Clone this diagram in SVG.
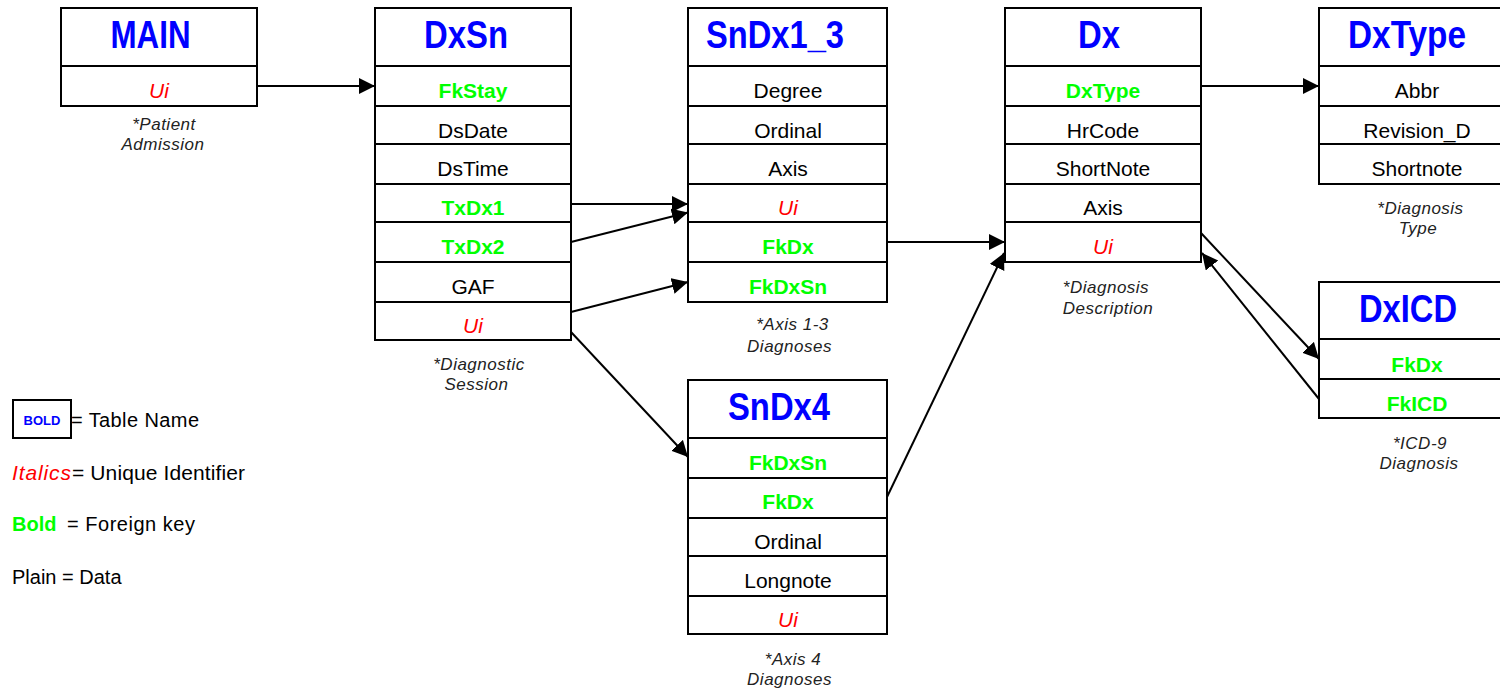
<svg xmlns="http://www.w3.org/2000/svg" width="1500" height="692" viewBox="0 0 1500 692">
<defs>
<marker id="arr" markerUnits="userSpaceOnUse" markerWidth="17" markerHeight="17" refX="16" refY="8" orient="auto">
<path d="M0,0 L16,8 L0,16 z" fill="#000"/>
</marker>
<style>
.box{fill:#fff;stroke:#000;stroke-width:2}
.sep{stroke:#000;stroke-width:2}
.title{font-family:"Liberation Sans",Arial,sans-serif;font-weight:bold;font-size:38.5px;fill:#0000ff}
.f{font-family:"Liberation Sans",Arial,sans-serif;font-size:21px;text-anchor:middle}
.plain{fill:#000}
.fk{fill:#00ff00;font-weight:bold}
.ui{fill:#ff0000;font-style:italic}
.cap{font-family:"Liberation Sans",Arial,sans-serif;font-size:17px;font-style:italic;fill:#222;text-anchor:middle;letter-spacing:0.5px}
.lg{font-family:"Liberation Sans",Arial,sans-serif;font-size:20px;fill:#000}
.lgi{font-family:"Liberation Sans",Arial,sans-serif;font-size:21px;fill:#ff0000;font-style:italic}
.lgb{font-family:"Liberation Sans",Arial,sans-serif;font-size:20px;fill:#00ff00;font-weight:bold}
.con{stroke:#000;stroke-width:2;fill:none;marker-end:url(#arr)}
</style>
</defs>
<rect width="1500" height="692" fill="#fff"/>

<g id="MAIN">
<rect class="box" x="61" y="8" width="196" height="98"/>
<line class="sep" x1="61" y1="66" x2="257" y2="66"/>
<text class="title" x="110.5" y="47.5" textLength="80" lengthAdjust="spacingAndGlyphs">MAIN</text>
<text class="f ui" x="159" y="98">Ui</text>
<text class="cap" x="164" y="130">*Patient</text>
<text class="cap" x="163" y="149.5">Admission</text>
</g>

<g id="DxSn">
<rect class="box" x="375" y="8" width="196" height="332"/>
<line class="sep" x1="375" y1="66" x2="571" y2="66"/>
<line class="sep" x1="375" y1="106" x2="571" y2="106"/>
<line class="sep" x1="375" y1="144" x2="571" y2="144"/>
<line class="sep" x1="375" y1="184" x2="571" y2="184"/>
<line class="sep" x1="375" y1="222" x2="571" y2="222"/>
<line class="sep" x1="375" y1="262" x2="571" y2="262"/>
<line class="sep" x1="375" y1="302" x2="571" y2="302"/>
<text class="title" x="424" y="47.5" textLength="84" lengthAdjust="spacingAndGlyphs">DxSn</text>
<text class="f fk" x="473" y="98">FkStay</text>
<text class="f plain" x="473" y="137.5">DsDate</text>
<text class="f plain" x="473" y="176">DsTime</text>
<text class="f fk" x="473" y="215">TxDx1</text>
<text class="f fk" x="473" y="254">TxDx2</text>
<text class="f plain" x="473" y="294">GAF</text>
<text class="f ui" x="473" y="333">Ui</text>
<text class="cap" x="479" y="370">*Diagnostic</text>
<text class="cap" x="476.5" y="389.5">Session</text>
</g>

<g id="SnDx1_3">
<rect class="box" x="688" y="8" width="199" height="294"/>
<line class="sep" x1="688" y1="66" x2="887" y2="66"/>
<line class="sep" x1="688" y1="106" x2="887" y2="106"/>
<line class="sep" x1="688" y1="144" x2="887" y2="144"/>
<line class="sep" x1="688" y1="184" x2="887" y2="184"/>
<line class="sep" x1="688" y1="222" x2="887" y2="222"/>
<line class="sep" x1="688" y1="262" x2="887" y2="262"/>
<text class="title" x="706" y="47.5" textLength="138" lengthAdjust="spacingAndGlyphs">SnDx1_3</text>
<text class="f plain" x="788" y="98">Degree</text>
<text class="f plain" x="788" y="137.5">Ordinal</text>
<text class="f plain" x="788" y="176">Axis</text>
<text class="f ui" x="788" y="215">Ui</text>
<text class="f fk" x="788" y="254">FkDx</text>
<text class="f fk" x="788" y="294">FkDxSn</text>
<text class="cap" x="792.5" y="330">*Axis 1-3</text>
<text class="cap" x="789.5" y="351.5">Diagnoses</text>
</g>

<g id="Dx">
<rect class="box" x="1005" y="8" width="196" height="254"/>
<line class="sep" x1="1005" y1="66" x2="1201" y2="66"/>
<line class="sep" x1="1005" y1="106" x2="1201" y2="106"/>
<line class="sep" x1="1005" y1="144" x2="1201" y2="144"/>
<line class="sep" x1="1005" y1="184" x2="1201" y2="184"/>
<line class="sep" x1="1005" y1="222" x2="1201" y2="222"/>
<text class="title" x="1078" y="47.5" textLength="42" lengthAdjust="spacingAndGlyphs">Dx</text>
<text class="f fk" x="1103" y="98">DxType</text>
<text class="f plain" x="1103" y="137.5">HrCode</text>
<text class="f plain" x="1103" y="176">ShortNote</text>
<text class="f plain" x="1103" y="215">Axis</text>
<text class="f ui" x="1103" y="254">Ui</text>
<text class="cap" x="1106" y="292.5">*Diagnosis</text>
<text class="cap" x="1108" y="313.5">Description</text>
</g>

<g id="DxType">
<rect class="box" x="1319" y="8" width="196" height="176"/>
<line class="sep" x1="1319" y1="66" x2="1515" y2="66"/>
<line class="sep" x1="1319" y1="106" x2="1515" y2="106"/>
<line class="sep" x1="1319" y1="144" x2="1515" y2="144"/>
<text class="title" x="1348" y="47.5" textLength="118" lengthAdjust="spacingAndGlyphs">DxType</text>
<text class="f plain" x="1417" y="98">Abbr</text>
<text class="f plain" x="1417" y="137.5">Revision_D</text>
<text class="f plain" x="1417" y="176">Shortnote</text>
<text class="cap" x="1420.5" y="213.5">*Diagnosis</text>
<text class="cap" x="1418" y="233.5">Type</text>
</g>

<g id="DxICD">
<rect class="box" x="1319" y="282" width="196" height="136"/>
<line class="sep" x1="1319" y1="339" x2="1515" y2="339"/>
<line class="sep" x1="1319" y1="379" x2="1515" y2="379"/>
<text class="title" x="1359" y="322" textLength="98" lengthAdjust="spacingAndGlyphs">DxICD</text>
<text class="f fk" x="1417" y="371.5">FkDx</text>
<text class="f fk" x="1417" y="411">FkICD</text>
<text class="cap" x="1420" y="448.5">*ICD-9</text>
<text class="cap" x="1419" y="468.5">Diagnosis</text>
</g>

<g id="SnDx4">
<rect class="box" x="688" y="380" width="199" height="254"/>
<line class="sep" x1="688" y1="438" x2="887" y2="438"/>
<line class="sep" x1="688" y1="478" x2="887" y2="478"/>
<line class="sep" x1="688" y1="518" x2="887" y2="518"/>
<line class="sep" x1="688" y1="556" x2="887" y2="556"/>
<line class="sep" x1="688" y1="596" x2="887" y2="596"/>
<text class="title" x="728" y="420" textLength="102" lengthAdjust="spacingAndGlyphs">SnDx4</text>
<text class="f fk" x="788" y="470">FkDxSn</text>
<text class="f fk" x="788" y="509">FkDx</text>
<text class="f plain" x="788" y="549">Ordinal</text>
<text class="f plain" x="788" y="587.5">Longnote</text>
<text class="f ui" x="788" y="627">Ui</text>
<text class="cap" x="793" y="664.5">*Axis 4</text>
<text class="cap" x="789.5" y="685">Diagnoses</text>
</g>

<g id="connectors">
<line class="con" x1="257" y1="86" x2="375" y2="86"/>
<line class="con" x1="571" y1="204" x2="688" y2="204"/>
<line class="con" x1="571" y1="242" x2="688" y2="212.5"/>
<line class="con" x1="571" y1="312" x2="688" y2="282"/>
<line class="con" x1="571" y1="332" x2="688" y2="457"/>
<line class="con" x1="887" y1="242" x2="1005" y2="242"/>
<line class="con" x1="887" y1="497" x2="1004" y2="253"/>
<line class="con" x1="1201" y1="86" x2="1319" y2="86"/>
<line class="con" x1="1201" y1="233" x2="1319" y2="359"/>
<line class="con" x1="1319" y1="399" x2="1202" y2="253"/>
</g>

<g id="legend">
<rect class="box" x="13" y="400" width="58" height="38"/>
<text x="42" y="424.5" font-family="Liberation Sans, Arial, sans-serif" font-size="13" font-weight="bold" fill="#0000ff" text-anchor="middle">BOLD</text>
<text class="lg" x="71" y="427" textLength="128" lengthAdjust="spacing">= Table Name</text>
<text class="lgi" x="12" y="480" textLength="59" lengthAdjust="spacing">Italics</text>
<text class="lg" x="72" y="480" style="font-size:21px" textLength="173" lengthAdjust="spacing">= Unique Identifier</text>
<text class="lgb" x="12" y="530.5">Bold</text>
<text class="lg" x="67" y="530.5" textLength="128" lengthAdjust="spacing">= Foreign key</text>
<text class="lg" x="12" y="584">Plain = Data</text>
</g>
</svg>
